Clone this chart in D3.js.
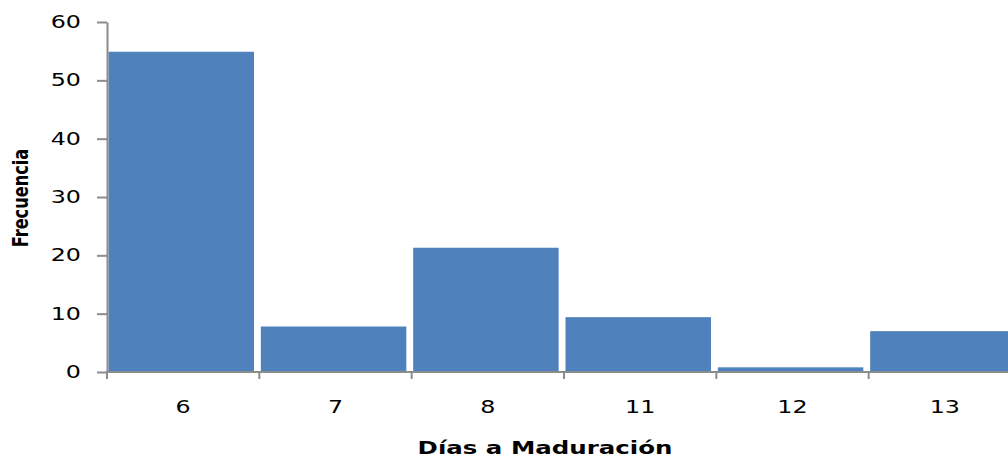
<!DOCTYPE html>
<html>
<head>
<meta charset="utf-8">
<script src="https://cdn.jsdelivr.net/npm/d3@7"></script>
<style>
  html, body { margin: 0; padding: 0; background: #fff; }
  svg { display: block; overflow: hidden; }
</style>
</head>
<body>
<svg id="chart" width="1008" height="457"></svg>
<script>
// Días a maduración: frecuencia por categoría
const categories = ["6", "7", "8", "11", "12", "13"];
const frequencies = [54.9, 7.8, 21.3, 9.4, 0.8, 7.0];
const yTickValues = [0, 10, 20, 30, 40, 50, 60];
const xTitle = "Días a Maduración";
const yTitle = "Frecuencia";

const W = 1008, H = 457;
const plot = { left: 107, top: 22, right: 1021, bottom: 372 };
const axisColor = "#8c8c8c";
const barColor = "#4f81bd";
const textFont = "'DejaVu Sans', Verdana, sans-serif";
const wide = 1.4; // horizontal stretch of the chart lettering

const svg = d3.select("#chart");

const x = d3.scaleBand()
  .domain(categories)
  .range([plot.left, plot.right])
  .padding(0);

const y = d3.scaleLinear()
  .domain([0, 60])
  .range([plot.bottom, plot.top]);

// bars
svg.append("g")
  .selectAll("rect")
  .data(categories.map((c, i) => ({ c, v: frequencies[i] })))
  .join("rect")
  .attr("x", d => x(d.c) + 1.5)
  .attr("width", x.step() * 0.955)
  .attr("y", d => y(d.v))
  .attr("height", d => y(0) - y(d.v))
  .attr("fill", barColor);

// y axis
const yAxis = svg.append("g")
  .attr("transform", `translate(${plot.left},0)`)
  .call(d3.axisLeft(y).tickValues(yTickValues).tickSize(10).tickSizeOuter(0));
yAxis.select(".domain").attr("stroke", axisColor).attr("stroke-width", 2);
yAxis.selectAll(".tick line").attr("stroke", axisColor).attr("stroke-width", 2);
yAxis.selectAll(".tick text")
  .attr("x", 0)
  .attr("transform", `translate(-26,0) scale(${wide},1)`)
  .attr("fill", "#000")
  .style("font-family", textFont)
  .style("font-size", "17px");

// x axis line
svg.append("line")
  .attr("x1", plot.left - 1).attr("x2", W)
  .attr("y1", y(0)).attr("y2", y(0))
  .attr("stroke", axisColor).attr("stroke-width", 2);

// x ticks at category boundaries
svg.append("g")
  .selectAll("line")
  .data(categories)
  .join("line")
  .attr("x1", d => x(d)).attr("x2", d => x(d))
  .attr("y1", y(0)).attr("y2", y(0) + 7)
  .attr("stroke", axisColor).attr("stroke-width", 2);

// x labels
svg.append("g")
  .selectAll("text")
  .data(categories)
  .join("text")
  .attr("transform", d => `translate(${x(d) + x.bandwidth() / 2},413) scale(${wide},1)`)
  .attr("text-anchor", "middle")
  .style("font-family", textFont)
  .style("font-size", "17px")
  .text(d => d);

// axis titles
svg.append("text")
  .attr("transform", `translate(545,454) scale(${wide},1)`)
  .attr("text-anchor", "middle")
  .style("font-family", textFont)
  .style("font-weight", "bold")
  .style("font-size", "17.5px")
  .text(xTitle);

svg.append("text")
  .attr("transform", "translate(28,198) scale(1.15,1) rotate(-90)")
  .attr("text-anchor", "middle")
  .style("font-family", "'DejaVu Sans Condensed', 'DejaVu Sans', sans-serif")
  .style("font-stretch", "condensed")
  .style("font-weight", "bold")
  .style("font-size", "18px")
  .text(yTitle);
</script>
</body>
</html>
